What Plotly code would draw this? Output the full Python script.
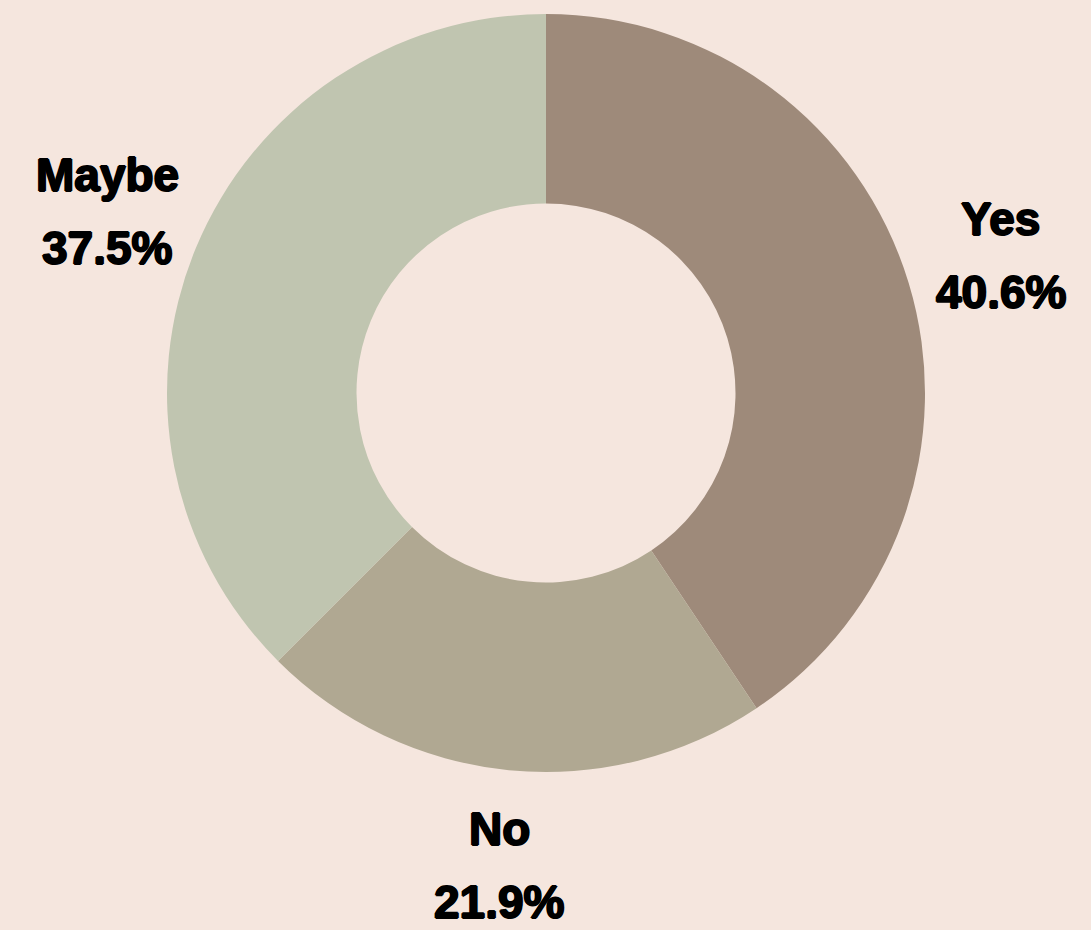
import math
import plotly.graph_objects as go

# Survey responses
labels = ["Yes", "No", "Maybe"]
counts = [13, 7, 12]
colors = ["#9E8A7A", "#B0A892", "#C0C5B0"]

W, H = 1091, 930
BG = "#F5E6DE"

# Pie geometry in pixels
cx, cy, R = 546, 393, 379
label_r = 475
line_gap = 36.5

total = sum(counts)
shares = [c / total for c in counts]

fig = go.Figure(
    go.Pie(
        labels=labels,
        values=counts,
        sort=False,
        direction="clockwise",
        rotation=0,
        hole=0.5,
        marker=dict(colors=colors, line=dict(width=0)),
        textinfo="none",
        hovertemplate="%{label}: %{percent:.1%}<extra></extra>",
        domain=dict(
            x=[(cx - R) / W, (cx + R) / W],
            y=[(H - cy - R) / H, (H - cy + R) / H],
        ),
        showlegend=False,
    )
)

# Outside labels at each slice's mid-angle (clockwise from 12 o'clock);
# a thin same-colour shadow gives the heavy, black-weight look
font = dict(
    family="Liberation Sans, Arial, sans-serif",
    size=46,
    color="#000000",
    shadow="1px 0px 0px #000, -1px 0px 0px #000, 0px 0.6px 0px #000, 0px -0.6px 0px #000",
)
cum = 0.0
for name, share in zip(labels, shares):
    mid = (cum + share / 2) * 2 * math.pi
    cum += share
    lx = cx + label_r * math.sin(mid)
    ly = cy - label_r * math.cos(mid)
    for text, dy in ((f"<b>{name}</b>", -line_gap), (f"<b>{share * 100:.1f}%</b>", line_gap)):
        fig.add_annotation(
            x=lx / W, y=(H - (ly + dy)) / H,
            xref="paper", yref="paper",
            text=text, showarrow=False,
            xanchor="center", yanchor="middle",
            font=font,
        )

fig.update_layout(
    width=W, height=H,
    margin=dict(l=0, r=0, t=0, b=0),
    paper_bgcolor=BG,
    plot_bgcolor=BG,
)

fig.write_html("out.html")
